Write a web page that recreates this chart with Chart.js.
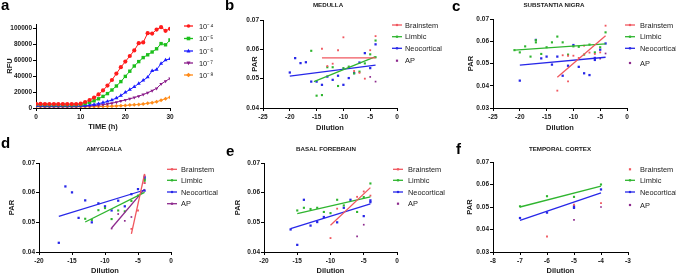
<!DOCTYPE html>
<html><head><meta charset="utf-8">
<script src="https://cdn.jsdelivr.net/npm/chart.js@4.4.0/dist/chart.umd.min.js"></script>
<style>
html,body{margin:0;padding:0;background:#fff;overflow:hidden;width:676px;height:274px;position:relative;}
canvas{position:absolute;}
</style></head><body>
<canvas id="pa" width="225" height="137" style="left:0;top:0;width:225px;height:137px"></canvas>
<canvas id="pb" width="225" height="137" style="left:225px;top:0;width:225px;height:137px"></canvas>
<canvas id="pc" width="226" height="137" style="left:450px;top:0;width:226px;height:137px"></canvas>
<canvas id="pd" width="225" height="140" style="left:0;top:137px;width:225px;height:140px"></canvas>
<canvas id="pe" width="225" height="140" style="left:225px;top:137px;width:225px;height:140px"></canvas>
<canvas id="pf" width="226" height="140" style="left:450px;top:137px;width:226px;height:140px"></canvas>
<script>
// ---------- DATA ----------
// Panel a: RFU vs time
const timeHours = [0,1,2,3,4,5,6,7,8,9,10,11,12,13,14,15,16,17,18,19,20,21,22,23,24,25,26,27,28,29,30];
const rfu1e4 = [5200,5100,5000,5000,5000,4900,4900,4900,4900,5000,5400,7500,10000,13000,17000,22000,28000,35000,43000,51000,58000,65000,72000,81000,82000,93500,93000,98000,101000,96500,99000];
const rfu1e5 = [4300,4200,4100,4000,4000,4000,3900,3900,3900,4000,4300,5500,7000,9000,11500,14500,18000,22500,27500,33000,39500,46000,52500,58000,63000,66500,70000,74000,80500,79000,85000];
const rfu1e6 = [2600,2600,2500,2500,2500,2500,2400,2400,2400,2500,2600,3000,3600,4400,5400,6700,8200,10000,12500,15500,19500,23000,26500,30500,34500,38500,46500,48000,55500,60000,61500];
const rfu1e7 = [2000,2000,2000,1900,1900,1900,1900,1900,1900,1900,2000,2300,2600,3000,3500,4200,5000,6000,7200,8700,10000,11500,13000,14800,16800,19000,21700,24500,30000,33500,37000];
const rfu1e8 = [1600,1600,1600,1600,1600,1600,1600,1600,1600,1600,1600,1600,1700,1700,1800,1900,2100,2300,2600,2900,3200,3600,4000,4400,5000,5800,6700,7900,9600,11700,13300];
const aLabels = ['10\u207B\u2074','10\u207B\u2075','10\u207B\u2076','10\u207B\u2077','10\u207B\u2078'];
const aXTicks = [0,10,20,30];
const aYTicks = [0,20000,40000,60000,80000,100000];

const regionLabels = ['Brainstem','Limbic','Neocortical','AP'];
const dilTicks25 = [-25,-20,-15,-10,-5,0];
const dilTicks20 = [-20,-15,-10,-5,0];
const dilTicks8 = [-8,-7,-6,-5,-4,-3];
const parTicks4 = [0.04,0.05,0.06,0.07];
const parTicks3 = [0.03,0.04,0.05,0.06,0.07];

// Panel b: MEDULLA  [dilution, PAR]
const bBrainstem = [[-14,0.0602],[-13,0.0543],[-12,0.0551],[-11,0.0597],[-10,0.0641],[-9,0.0537],[-8,0.0526],[-7,0.0520],[-6,0.0500],[-5,0.0597],[-4,0.0645]];
const bBrainstemFit = [[-14,0.0571],[-4,0.0571]];
const bLimbic = [[-16,0.0595],[-15,0.0442],[-14,0.0444],[-13,0.0539],[-12,0.0539],[-11,0.0475],[-10,0.0536],[-9,0.0541],[-8,0.0518],[-7,0.0524],[-6,0.0552],[-5,0.0583],[-4,0.0630],[-4,0.0573]];
const bLimbicFit = [[-15.5,0.0490],[-4,0.0575]];
const bNeocortical = [[-20,0.0521],[-19,0.0570],[-18,0.0553],[-17,0.0556],[-16,0.0490],[-15,0.0490],[-14,0.0479],[-13,0.0507],[-12,0.0496],[-11,0.0510],[-10,0.0479],[-9,0.0502],[-8,0.0519],[-7,0.0555],[-6,0.0587],[-5,0.0536],[-4,0.0617]];
const bNeocorticalFit = [[-20,0.0509],[-4,0.0546]];
const bAP = [[-5,0.0506],[-4,0.0490]];

// Panel c: SUBSTANTIA NIGRA
const cBrainstem = [[-13,0.0378],[-12,0.0537],[-11,0.0420],[-11,0.0535],[-10,0.0535],[-9,0.0525],[-8,0.0580],[-7,0.0549],[-6,0.0543],[-5,0.0550],[-4,0.0670]];
const cBrainstemFit = [[-13,0.0438],[-4,0.0625]];
const cLimbic = [[-21,0.0560],[-20,0.0550],[-19,0.0577],[-18,0.0531],[-17,0.0595],[-17,0.0605],[-16,0.0543],[-15,0.0573],[-14,0.0595],[-13,0.0621],[-12,0.0595],[-11,0.0540],[-10,0.0577],[-9,0.0575],[-8,0.0540],[-7,0.0585],[-6,0.0550],[-5,0.0573],[-4,0.0640]];
const cLimbicFit = [[-21,0.0560],[-4,0.0588]];
const cNeocortical = [[-20,0.0423],[-17,0.0606],[-16,0.0523],[-15,0.0531],[-14,0.0495],[-13,0.0531],[-12,0.0445],[-11,0.0490],[-10,0.0583],[-9,0.0485],[-8,0.0456],[-7,0.0448],[-6,0.0516],[-6,0.0525],[-5,0.0562],[-4,0.0590]];
const cNeocorticalFit = [[-20,0.0493],[-4,0.0528]];
const cAP = [[-5,0.0522],[-4,0.0545]];

// Panel d: AMYGDALA
const dBrainstem = [[-6,0.0478],[-5,0.0540],[-4,0.0633],[-4,0.0658]];
const dBrainstemFit = [[-6,0.0461],[-4,0.0663]];
const dLimbic = [[-13,0.0512],[-12,0.0508],[-11,0.0541],[-10,0.0548],[-9,0.0511],[-8,0.0540],[-7,0.0537],[-6,0.0572],[-5,0.0590],[-4,0.0644],[-4,0.0640]];
const dLimbicFit = [[-13,0.0501],[-4,0.0601]];
const dNeocortical = [[-17,0.0431],[-16,0.0621],[-15,0.0601],[-14,0.0515],[-13,0.0574],[-12,0.0500],[-11,0.0564],[-10,0.0554],[-9,0.0540],[-8,0.0573],[-7,0.0554],[-6,0.0595],[-5,0.0612],[-4,0.0653],[-4,0.0647],[-4,0.0607]];
const dNeocorticalFit = [[-17,0.0520],[-4,0.0609]];
const dAP = [[-9,0.0479],[-8,0.0528],[-7,0.0505],[-6,0.0518],[-4,0.0632]];
const dAPFit = [[-9,0.0481],[-4,0.0612]];

// Panel e: BASAL FOREBRAIN
const eBrainstem = [[-10,0.0447],[-9,0.0546],[-6,0.0586],[-5,0.0604],[-4,0.0590]];
const eBrainstemFit = [[-10,0.0490],[-4,0.0617]];
const eLimbic = [[-15,0.0540],[-14,0.0549],[-13,0.0545],[-12,0.0549],[-11,0.0535],[-10,0.0531],[-9,0.0576],[-8,0.0557],[-6,0.0535],[-5,0.0585],[-4,0.0631]];
const eLimbicFit = [[-15,0.0529],[-4,0.0586]];
const eNeocortical = [[-16,0.0476],[-15,0.0424],[-14,0.0576],[-13,0.0489],[-12,0.0501],[-11,0.0518],[-9,0.0500],[-8,0.0549],[-7,0.0576],[-5,0.0521],[-4,0.0574],[-4,0.0568]];
const eNeocorticalFit = [[-16,0.0479],[-4,0.0562]];
const eAP = [[-6,0.0453],[-5,0.0492]];

// Panel f: TEMPORAL CORTEX
const fBrainstem = [[-6,0.0369],[-5,0.0510],[-4,0.0517]];
const fLimbic = [[-7,0.0503],[-6,0.0548],[-5,0.0545],[-4,0.0600]];
const fLimbicFit = [[-7,0.0500],[-4,0.0593]];
const fNeocortical = [[-7,0.0451],[-6,0.0475],[-5,0.0503],[-5,0.0496],[-4,0.0578]];
const fNeocorticalFit = [[-7,0.0441],[-4,0.0563]];
const fAP = [[-5,0.0443],[-4,0.0500]];

// ---------- STYLE ----------
const FONT = '"Liberation Sans", Arial, Helvetica, sans-serif';
const colBrainstem = '#f0575f';
const colLimbic = '#2fb52f';
const colNeo = '#2727e8';
const colAP = '#8d2a8d';
const aColors = ['#ff1c1c','#1cbf1c','#1c1cff','#8a1c8a','#ff8c1a'];
const aShapes = ['circle','rect','triangle','triangleDown','rectRot'];
const INK = '#1a1a1a';

function pts(arr){ return arr.map(p => ({x:p[0], y:p[1]})); }
function scatterDs(arr, color, r){
  return {data: pts(arr), showLine:false, pointStyle:'rect', pointRadius:r, pointHoverRadius:r,
          backgroundColor:color, borderColor:color, pointBorderWidth:0, borderWidth:0};
}
function fitDs(arr, color){
  return {data: pts(arr), showLine:true, pointRadius:0, pointHoverRadius:0, borderColor:color, borderWidth:1.3, fill:false};
}

function drawMarker(ctx, shape, x, y, r, color){
  ctx.fillStyle = color;
  ctx.beginPath();
  if (shape === 'circle') { ctx.arc(x, y, r, 0, Math.PI*2); }
  else if (shape === 'rect') { ctx.rect(x-r, y-r, 2*r, 2*r); }
  else if (shape === 'triangle') { ctx.moveTo(x, y-r*1.2); ctx.lineTo(x+r*1.1, y+r*0.8); ctx.lineTo(x-r*1.1, y+r*0.8); ctx.closePath(); }
  else if (shape === 'triangleDown') { ctx.moveTo(x, y+r*1.2); ctx.lineTo(x+r*1.1, y-r*0.8); ctx.lineTo(x-r*1.1, y-r*0.8); ctx.closePath(); }
  else if (shape === 'rectRot') { ctx.moveTo(x, y-r*1.3); ctx.lineTo(x+r*1.3, y); ctx.lineTo(x, y+r*1.3); ctx.lineTo(x-r*1.3, y); ctx.closePath(); }
  ctx.fill();
}

function decor(d){
  return {
    id: 'decor' + d.letter,
    afterDraw(chart){
      const ctx = chart.ctx;
      ctx.save();
      ctx.fillStyle = '#000';
      ctx.textAlign = 'left'; ctx.textBaseline = 'alphabetic';
      ctx.font = 'bold 15px ' + FONT;
      ctx.fillText(d.letter, d.letterX, d.letterY);
      if (d.title) {
        ctx.font = 'bold 6.2px ' + FONT;
        ctx.fillStyle = INK;
        ctx.textAlign = 'center'; ctx.textBaseline = 'middle';
        ctx.fillText(d.title, d.titleX, d.titleY);
      }
      d.legend.forEach((it, i) => {
        const y = d.rows[i];
        const xm = (d.lx0 + d.lx1) / 2;
        if (it.line) {
          ctx.strokeStyle = it.color; ctx.lineWidth = 1.3;
          ctx.beginPath(); ctx.moveTo(d.lx0, y); ctx.lineTo(d.lx1, y); ctx.stroke();
        }
        drawMarker(ctx, it.shape || 'rect', xm, y, it.r || 1.1, it.color);
        ctx.fillStyle = INK;
        ctx.font = '7.4px ' + FONT;
        ctx.textAlign = 'left'; ctx.textBaseline = 'middle';
        ctx.fillText(it.label, d.tx, y + 0.5);
      });
      ctx.restore();
    }
  };
}

function makePanel(cfg){
  const lh = 9; // title line height
  const padB = cfg.h - cfg.xTitleY - lh/2;
  const a = cfg.area;
  const tickFont = {family: FONT, size: 6.5, weight: 'bold'};
  const titleFont = {family: FONT, size: 7.5, weight: 'bold', lineHeight: 1.2};
  const axisCommon = {
    grid: {display:true, drawOnChartArea:false, drawTicks:true, tickLength:3, color:'#000', lineWidth:1},
    border: {display:true, color:'#000', width:1},
  };
  new Chart(document.getElementById(cfg.id), {
    type: 'scatter',
    data: {datasets: cfg.datasets},
    options: {
      responsive:false, animation:false, devicePixelRatio:1, events:[],
      layout: {padding: {left: 0, top: a.t, right: cfg.w - a.r, bottom: padB}},
      plugins: {legend:{display:false}, tooltip:{enabled:false}},
      elements: {line:{tension:0}},
      scales: {
        x: Object.assign({}, axisCommon, {
          type:'linear', min: cfg.xMin, max: cfg.xMax,
          afterFit: s => { s.height = cfg.h - padB - a.b; },
          afterBuildTicks: s => { s.ticks = cfg.xTicks.map(v => ({value:v})); },
          ticks: {font: tickFont, color: INK, padding: 2, maxRotation:0, autoSkip:false, callback: v => String(v)},
          title: {display:true, text: cfg.xTitle, font: titleFont, color: INK, padding: 0}
        }),
        y: Object.assign({}, axisCommon, {
          type:'linear', min: cfg.yMin, max: cfg.yMax,
          afterFit: s => { s.width = a.l; },
          afterBuildTicks: s => { s.ticks = cfg.yTicks.map(v => ({value:v})); },
          ticks: {font: tickFont, color: INK, padding: 1, autoSkip:false, callback: cfg.yFmt},
          title: {display:true, text: cfg.yTitle, font: titleFont, color: INK, padding: {top: cfg.yTitleX - lh/2, bottom: 0}}
        })
      }
    },
    plugins: [decor(cfg.decor)]
  });
}

const fmt2 = v => Number(v).toFixed(2);
function regionLegend(lines){
  const cols = [colBrainstem, colLimbic, colNeo, colAP];
  return regionLabels.map((l, i) => ({label:l, color:cols[i], line:lines[i], r:1.1}));
}

// Panel a
const aSeries = [rfu1e4, rfu1e5, rfu1e6, rfu1e7, rfu1e8];
const aStyles = ['circle','rect','triangle','triangle','rectRot'];
const aRot = [0,0,0,180,0];
const aRad = [2.1,2.4,2.3,2.0,2.0];
makePanel({
  id:'pa', w:225, h:137, area:{l:36, r:170, t:24, b:108},
  yTitleX:10, xTitleY:127, xTitle:'TIME (h)', yTitle:'RFU',
  xMin:0, xMax:30, yMin:0, yMax:105000, xTicks:aXTicks, yTicks:aYTicks, yFmt: v => String(v),
  datasets: aSeries.map((s, i) => ({
    data: timeHours.map((t, k) => ({x:t, y:s[k]})), showLine:true,
    borderColor:aColors[i], backgroundColor:aColors[i], borderWidth:1,
    pointStyle:aStyles[i], rotation:aRot[i], pointRadius:aRad[i], pointBorderWidth:0, fill:false
  })),
  decor:{letter:'a', letterX:1, letterY:10, title:null,
    lx0:184, lx1:193, tx:199, rows:[26,38.5,51,63,75],
    legend: aLabels.map((l, i) => ({label:l, color:aColors[i], line:true, shape:aShapes[i], r:1.8}))}
});

// Panel b
makePanel({
  id:'pb', w:225, h:137, area:{l:38, r:172, t:20, b:108},
  yTitleX:30, xTitleY:128, xTitle:'Dilution', yTitle:'PAR',
  xMin:-25, xMax:0, yMin:0.04, yMax:0.07, xTicks:dilTicks25, yTicks:parTicks4, yFmt: fmt2,
  datasets:[
    fitDs(bBrainstemFit, colBrainstem), fitDs(bLimbicFit, colLimbic), fitDs(bNeocorticalFit, colNeo),
    scatterDs(bBrainstem, colBrainstem, 1.3), scatterDs(bLimbic, colLimbic, 1.5), scatterDs(bNeocortical, colNeo, 1.6), scatterDs(bAP, colAP, 1.2)
  ],
  decor:{letter:'b', letterX:0, letterY:10, title:'MEDULLA', titleX:103, titleY:5.5,
    lx0:167, lx1:177, tx:180, rows:[25,36.7,48.3,60.7], legend: regionLegend([true,true,true,false])}
});

// Panel c
makePanel({
  id:'pc', w:226, h:137, area:{l:43, r:177, t:19, b:108},
  yTitleX:21, xTitleY:128, xTitle:'Dilution', yTitle:'PAR',
  xMin:-25, xMax:0, yMin:0.03, yMax:0.07, xTicks:dilTicks25, yTicks:parTicks3, yFmt: fmt2,
  datasets:[
    fitDs(cBrainstemFit, colBrainstem), fitDs(cLimbicFit, colLimbic), fitDs(cNeocorticalFit, colNeo),
    scatterDs(cBrainstem, colBrainstem, 1.3), scatterDs(cLimbic, colLimbic, 1.5), scatterDs(cNeocortical, colNeo, 1.6), scatterDs(cAP, colAP, 1.2)
  ],
  decor:{letter:'c', letterX:2, letterY:11, title:'SUBSTANTIA NIGRA', titleX:104, titleY:5.5,
    lx0:175, lx1:185, tx:190, rows:[25,36.7,48.3,63], legend: regionLegend([true,true,true,false])}
});

// Panel d
makePanel({
  id:'pd', w:225, h:140, area:{l:39, r:171, t:26, b:115},
  yTitleX:12, xTitleY:134, xTitle:'Dilution', yTitle:'PAR',
  xMin:-20, xMax:0, yMin:0.04, yMax:0.07, xTicks:dilTicks20, yTicks:parTicks4, yFmt: fmt2,
  datasets:[
    fitDs(dBrainstemFit, colBrainstem), fitDs(dLimbicFit, colLimbic), fitDs(dNeocorticalFit, colNeo), fitDs(dAPFit, colAP),
    scatterDs(dBrainstem, colBrainstem, 1.3), scatterDs(dLimbic, colLimbic, 1.5), scatterDs(dNeocortical, colNeo, 1.6), scatterDs(dAP, colAP, 1.2)
  ],
  decor:{letter:'d', letterX:1, letterY:11, title:'AMYGDALA', titleX:104, titleY:12.5,
    lx0:167, lx1:177, tx:181, rows:[32.3,43.3,55,66.7], legend: regionLegend([true,true,true,true])}
});

// Panel e
makePanel({
  id:'pe', w:225, h:140, area:{l:39, r:172, t:26, b:115},
  yTitleX:13, xTitleY:134, xTitle:'Dilution', yTitle:'PAR',
  xMin:-20, xMax:0, yMin:0.04, yMax:0.07, xTicks:dilTicks20, yTicks:parTicks4, yFmt: fmt2,
  datasets:[
    fitDs(eBrainstemFit, colBrainstem), fitDs(eLimbicFit, colLimbic), fitDs(eNeocorticalFit, colNeo),
    scatterDs(eBrainstem, colBrainstem, 1.3), scatterDs(eLimbic, colLimbic, 1.5), scatterDs(eNeocortical, colNeo, 1.6), scatterDs(eAP, colAP, 1.2)
  ],
  decor:{letter:'e', letterX:1, letterY:19, title:'BASAL FOREBRAIN', titleX:101, titleY:12.5,
    lx0:168, lx1:178, tx:183, rows:[32.3,43.3,55,66.7], legend: regionLegend([true,true,true,false])}
});

// Panel f
makePanel({
  id:'pf', w:226, h:140, area:{l:43, r:178, t:25, b:115},
  yTitleX:20, xTitleY:134, xTitle:'Dilution', yTitle:'PAR',
  xMin:-8, xMax:-3, yMin:0.03, yMax:0.07, xTicks:dilTicks8, yTicks:parTicks3, yFmt: fmt2,
  datasets:[
    fitDs(fLimbicFit, colLimbic), fitDs(fNeocorticalFit, colNeo),
    scatterDs(fBrainstem, colBrainstem, 1.3), scatterDs(fLimbic, colLimbic, 1.5), scatterDs(fNeocortical, colNeo, 1.6), scatterDs(fAP, colAP, 1.2)
  ],
  decor:{letter:'f', letterX:6, letterY:17, title:'TEMPORAL CORTEX', titleX:110, titleY:12.5,
    lx0:175, lx1:185, tx:190, rows:[32.3,43.3,55,68], legend: regionLegend([false,true,true,false])}
});
</script>
</body></html>
